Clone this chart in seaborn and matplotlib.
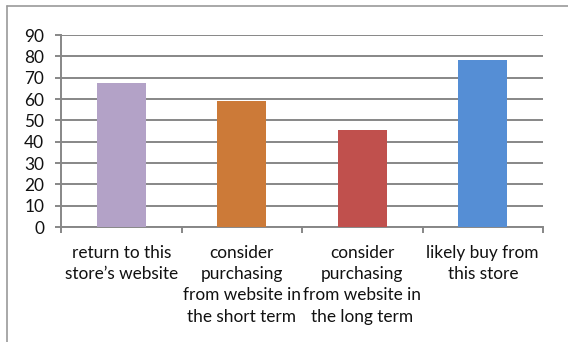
import matplotlib
matplotlib.use("Agg")
import matplotlib.pyplot as plt
from matplotlib.lines import Line2D
import seaborn as sns
import pandas as pd

# Survey responses (percent of respondents)
categories = [
    "return to this\nstore\u2019s website",
    "consider\npurchasing\nfrom website in\nthe short term",
    "consider\npurchasing\nfrom website in\nthe long term",
    "likely buy from\nthis store",
]
values = [67.5, 59, 45.5, 78.3]
bar_colors = ["#B3A2C7", "#CC7A38", "#C0504D", "#558ED5"]
y_ticks = [0, 10, 20, 30, 40, 50, 60, 70, 80, 90]

sns.set_style("white")
plt.rcParams["font.family"] = ["Lato", "DejaVu Sans"]

W, H, DPI = 568, 342, 100
fig = plt.figure(figsize=(W / DPI, H / DPI), dpi=DPI)
ax = fig.add_axes([61 / W, (H - 227) / H, (543 - 61) / W, (227 - 35) / H])

df = pd.DataFrame({"category": categories, "value": values})
sns.barplot(data=df, x="category", y="value", hue="category",
            palette=bar_colors, width=0.41, legend=False, ax=ax,
            saturation=1, linewidth=0, zorder=3)

grid_color = "#878787"
text_color = "#111111"
fs = 12.4
ax.set_ylim(0, 90)
ax.set_xlim(-0.5, len(categories) - 0.5)
ax.set_yticks(y_ticks)
ax.yaxis.grid(True, color=grid_color, linewidth=1.4, zorder=0)
ax.set_axisbelow(True)
ax.set_xlabel("")
ax.set_ylabel("")

for side in ("top", "right"):
    ax.spines[side].set_visible(False)
for side in ("left", "bottom"):
    ax.spines[side].set_color(grid_color)
    ax.spines[side].set_linewidth(1.4)

# category boundary ticks below the axis
ax.set_xticks([i - 0.5 for i in range(len(categories) + 1)], minor=True)
ax.tick_params(axis="x", which="minor", length=4, width=1.4, color=grid_color,
               direction="out", bottom=True)
ax.tick_params(axis="x", which="major", length=0, pad=13, labelsize=fs,
               labelcolor=text_color)
ax.tick_params(axis="y", length=4, width=1.4, color=grid_color, left=True,
               direction="out", pad=8, labelsize=fs, labelcolor=text_color)
for lbl in ax.get_xticklabels():
    lbl.set_linespacing(1.40)
    lbl.set_verticalalignment("top")

# outer chart frame
fig.add_artist(Line2D([7 / W, 1.0], [1 - 6 / H, 1 - 6 / H],
                      transform=fig.transFigure, color="#9a9a9a", linewidth=1.2))
fig.add_artist(Line2D([7 / W, 7 / W], [0, 1 - 6 / H],
                      transform=fig.transFigure, color="#9a9a9a", linewidth=1.2))

fig.savefig("out.png", dpi=DPI, facecolor="white")
